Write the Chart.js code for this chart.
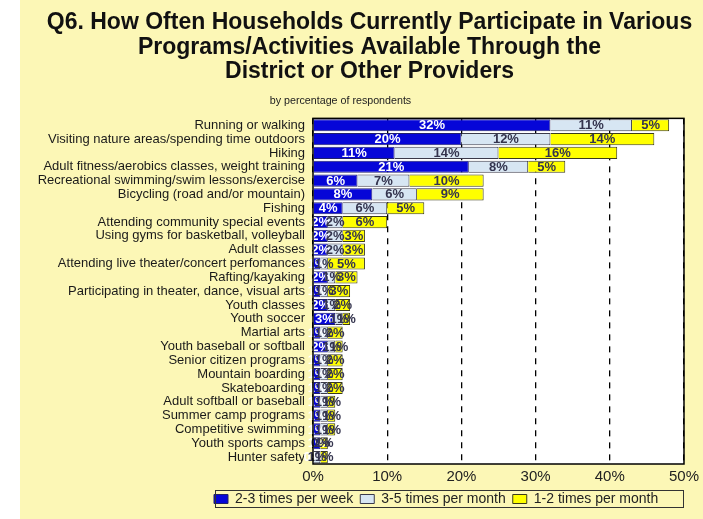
<!DOCTYPE html>
<html>
<head>
<meta charset="utf-8">
<script src="https://cdn.jsdelivr.net/npm/chart.js@4.4.1/dist/chart.umd.min.js"></script>
<style>
  html, body { margin: 0; padding: 0; background: #ffffff; }
  #wrap { position: absolute; left: 20px; top: 0; width: 683px; height: 519px; background: #fcf7b6; }
</style>
</head>
<body>
<div id="wrap"><canvas id="myChart" width="683" height="519"></canvas></div>
<script>
// activities, top to bottom
const categories = [
    'Running or walking',
    'Visiting nature areas/spending time outdoors',
    'Hiking',
    'Adult fitness/aerobics classes, weight training',
    'Recreational swimming/swim lessons/exercise',
    'Bicycling (road and/or mountain)',
    'Fishing',
    'Attending community special events',
    'Using gyms for basketball, volleyball',
    'Adult classes',
    'Attending live theater/concert perfomances',
    'Rafting/kayaking',
    'Participating in theater, dance, visual arts',
    'Youth classes',
    'Youth soccer',
    'Martial arts',
    'Youth baseball or softball',
    'Senior citizen programs',
    'Mountain boarding',
    'Skateboarding',
    'Adult softball or baseball',
    'Summer camp programs',
    'Competitive swimming',
    'Youth sports camps',
    'Hunter safety'
];
const perWeek   = [32, 20, 11, 21, 6, 8, 4, 2, 2, 2, 1, 2, 1, 2, 3, 1, 2, 1, 1, 1, 1, 1, 1, 1, 0];
const fewMonth  = [11, 12, 14, 8, 7, 6, 6, 2, 2, 2, 1, 1, 1, 1, 1, 1, 1, 1, 1, 1, 1, 1, 1, 0, 1];
const onceMonth = [5, 14, 16, 5, 10, 9, 5, 6, 3, 3, 5, 3, 3, 2, 1, 2, 1, 2, 2, 2, 1, 1, 1, 1, 1];
const seriesNames = ['2-3 times per week', '3-5 times per month', '1-2 times per month'];
const xTicks = [0, 10, 20, 30, 40, 50];

const titleLines = [
    'Q6. How Often Households Currently Participate in Various',
    'Programs/Activities Available Through the',
    'District or Other Providers'
];
const subtitleText = 'by percentage of respondents';

const FONT = 'Arial, "Liberation Sans", sans-serif';

// white plot area, frame, legend box, and small shifts of the title lines
const framePlugin = {
    id: 'frame',
    afterLayout(chart) {
        const lg = chart.legend;
        lg.left = 187;
        lg.right = 663;
        lg.width = lg.right - lg.left;
        chart.boxes.forEach(b => {
            if (b === chart.titleBlock) {
                b.left += 17; b.right += 17;
            } else if (b.options && b.options.text === subtitleText) {
                b.left -= 12; b.right -= 12;
            }
        });
    },
    beforeDraw(chart) {
        const a = chart.chartArea;
        const ctx = chart.ctx;
        ctx.save();
        ctx.fillStyle = '#ffffff';
        ctx.fillRect(a.left, a.top, a.right - a.left, a.bottom - a.top);
        ctx.restore();
    },
    afterDraw(chart) {
        const a = chart.chartArea;
        const ctx = chart.ctx;
        ctx.save();
        ctx.strokeStyle = '#000000';
        ctx.lineWidth = 1.5;
        ctx.strokeRect(a.left, a.top, a.right - a.left, a.bottom - a.top);
        // legend box
        const hb = chart.legend.legendHitBoxes;
        if (hb && hb.length) {
            const cy = hb[0].top + hb[0].height / 2;
            ctx.lineWidth = 1;
            ctx.strokeStyle = '#333333';
            ctx.strokeRect(195.5, Math.round(cy - 9) + 0.5, 468, 17);
        }
        ctx.restore();
    }
};

// value labels in the middle of every segment
const labelPlugin = {
    id: 'segLabels',
    afterDatasetsDraw(chart) {
        const ctx = chart.ctx;
        ctx.save();
        ctx.font = 'bold 13px ' + FONT;
        ctx.textAlign = 'center';
        ctx.textBaseline = 'middle';
        chart.data.datasets.forEach((ds, di) => {
            const meta = chart.getDatasetMeta(di);
            meta.data.forEach((bar, i) => {
                const v = ds.data[i];
                const cx = (bar.x + bar.base) / 2;
                ctx.fillStyle = di === 0 ? '#ffffff' : '#34344e';
                ctx.fillText(v + '%', cx, bar.y + 0.5);
            });
        });
        ctx.restore();
    }
};

const ctx = document.getElementById('myChart').getContext('2d');
const myChart = new Chart(ctx, {
    type: 'bar',
    data: {
        labels: categories,
        datasets: [
            { label: seriesNames[0], data: perWeek, backgroundColor: '#0606d8', borderColor: '#20206a', borderWidth: 1 },
            { label: seriesNames[1], data: fewMonth, backgroundColor: '#d7e6f3', borderColor: '#3a3a4a', borderWidth: 1 },
            { label: seriesNames[2], data: onceMonth, backgroundColor: '#ffff00', borderColor: '#3a3a1a', borderWidth: 1 }
        ]
    },
    options: {
        indexAxis: 'y',
        responsive: false,
        animation: false,
        layout: { padding: { left: 0, right: 18, top: 0, bottom: 3 } },
        datasets: { bar: { barPercentage: 0.88, categoryPercentage: 1.0 } },
        scales: {
            x: {
                stacked: true,
                min: 0,
                max: 50,
                afterBuildTicks(scale) {
                    scale.ticks = xTicks.map(v => ({ value: v }));
                },
                afterFit(scale) { scale.height -= 5; },
                ticks: {
                    callback: v => v + '%',
                    font: { family: FONT, size: 15 },
                    color: '#222222',
                    padding: 4
                },
                grid: { color: '#000000', lineWidth: 1.3, drawTicks: false },
                border: { display: false, dash: [6, 6] }
            },
            y: {
                stacked: true,
                afterFit(scale) { scale.width = 293; },
                ticks: {
                    font: { family: FONT, size: 13 },
                    color: '#1a1a1a',
                    padding: 8,
                    autoSkip: false
                },
                grid: { display: false, drawTicks: false },
                border: { display: false }
            }
        },
        plugins: {
            title: {
                display: true,
                text: titleLines,
                font: { family: FONT, size: 23, weight: 'bold', lineHeight: 1.08 },
                color: '#111111',
                padding: { top: 10, bottom: 0 }
            },
            subtitle: {
                display: true,
                text: subtitleText,
                font: { family: FONT, size: 10.7 },
                color: '#222222',
                padding: { top: 10, bottom: 11 }
            },
            legend: {
                position: 'bottom',
                align: 'start',
                labels: {
                    boxWidth: 14,
                    boxHeight: 9,
                    padding: 7,
                    font: { family: FONT, size: 14 },
                    color: '#222222'
                }
            },
            tooltip: { enabled: false }
        }
    },
    plugins: [framePlugin, labelPlugin]
});

// dashed grid lines
myChart.options.scales.x.grid.tickBorderDash = [];
myChart.options.scales.x.border.dash = [6, 6];
myChart.update();
</script>
</body>
</html>
